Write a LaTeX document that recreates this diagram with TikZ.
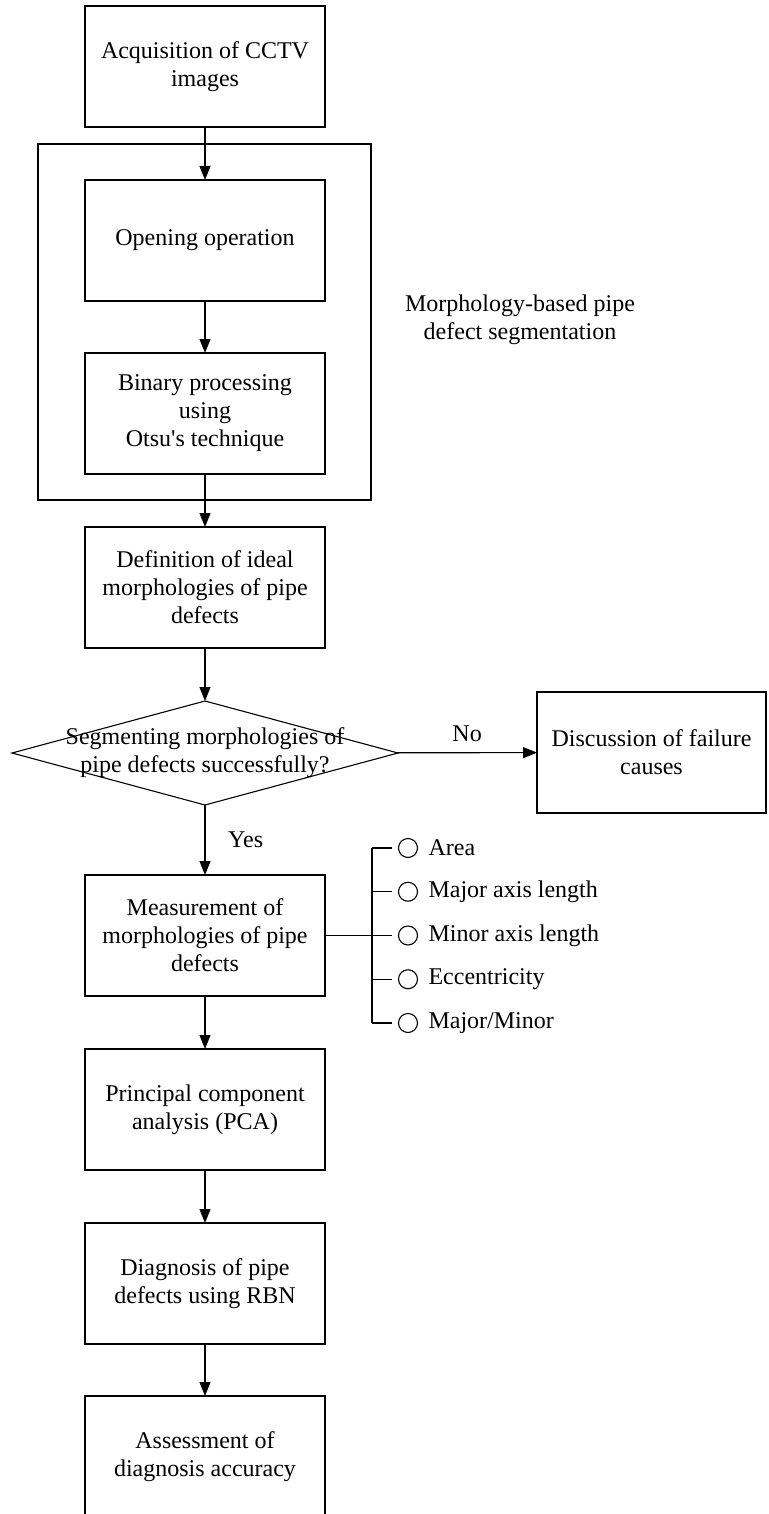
\documentclass[tikz,border=0pt]{standalone}
\usepackage{fontspec}
\setmainfont{Liberation Serif}
\usetikzlibrary{arrows.meta,shapes.geometric}

\begin{document}
\begin{tikzpicture}[x=0.5pt,y=-0.5pt,
  font=\fontsize{12}{14}\selectfont,
  every path/.style={line width=0.55pt},
  stepbox/.style={draw, minimum width=120pt, minimum height=60.5pt, inner sep=0pt, outer sep=0pt, align=center},
  link/.style={-{Triangle[length=7pt,width=5.5pt]}}]

\useasboundingbox (0,0) rectangle (768,1514);

\node[stepbox] (acq) at (205,66.5) {Acquisition of CCTV\\images};

\draw (38,144) rectangle (371,500);
\node[stepbox] (open) at (205,240.5) {Opening operation};
\node[stepbox] (bin) at (205,413.5) {Binary processing\\using\\Otsu\textquotesingle s technique};
\node[align=center] (morph) at (520,320) {Morphology-based pipe\\defect segmentation};

\node[stepbox] (def) at (205,587.5) {Definition of ideal\\morphologies of pipe\\defects};

\node[diamond, draw, minimum width=193pt, minimum height=52pt, inner sep=0pt, outer sep=0pt] (seg) at (205,753) {};
\node[align=center] (segtext) at (205,753) {Segmenting morphologies of\\pipe defects successfully?};

\node[stepbox, minimum width=114.5pt] (disc) at (651.5,752.5) {Discussion of failure\\causes};

\node[stepbox] (meas) at (205,935.5) {Measurement of\\morphologies of pipe\\defects};
\node[stepbox] (pca) at (205,1109.5) {Principal component\\analysis (PCA)};
\node[stepbox] (diag) at (205,1283.5) {Diagnosis of pipe\\defects using RBN};
\node[stepbox] (assess) at (205,1456.5) {Assessment of\\diagnosis accuracy};

\draw[link] (acq) -- (open);
\draw[link] (open) -- (bin);
\draw[link] (bin) -- (def);
\draw[link] (def) -- (seg);
\draw[link] (seg) -- node[above=2pt] {No} (disc);
\draw[link] (seg) -- node[right=8pt] {Yes} (meas);
\draw[link] (meas) -- (pca);
\draw[link] (pca) -- (diag);
\draw[link] (diag) -- (assess);

\foreach \txt [count=\i] in {Area, Major axis length, Minor axis length, Eccentricity, Major/Minor} {
  \coordinate (br\i) at (372,804.25+43.75*\i);
  \node[circle, draw, minimum size=9.5pt, inner sep=0pt] (dot\i) at (408,804.25+43.75*\i) {};
  \node[anchor=west, inner sep=0pt] (item\i) at (428,804.25+43.75*\i) {\txt};
  \draw (br\i) -- ([xshift=-3pt]dot\i.west);
}
\draw (br1) -- (br5);
\draw (meas.east) -- (br3);

\end{tikzpicture}
\end{document}
